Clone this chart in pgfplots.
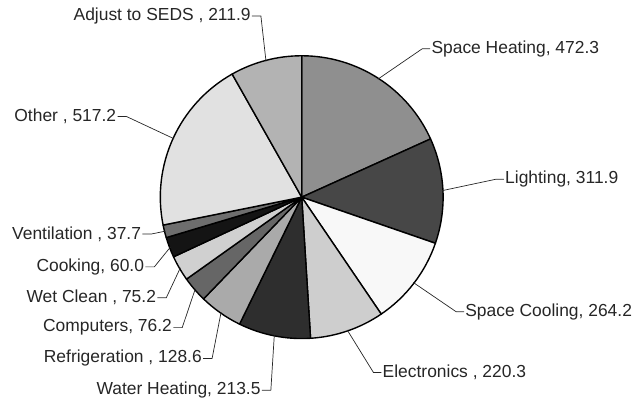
\documentclass[border=0pt]{standalone}
\usepackage{fontspec}
\setmainfont{Liberation Sans}
\usepackage{pgfplots}
\pgfplotsset{compat=1.18}

% slice values (clockwise from 12 o'clock) and grey fills
\def\vals{472.3,311.9,264.2,220.3,213.5,128.6,76.2,75.2,60.0,37.7,517.2,211.9}
\definecolor{c1}{HTML}{8F8F8F}
\definecolor{c2}{HTML}{474747}
\definecolor{c3}{HTML}{F8F8F8}
\definecolor{c4}{HTML}{CECECE}
\definecolor{c5}{HTML}{2E2E2E}
\definecolor{c6}{HTML}{AAAAAA}
\definecolor{c7}{HTML}{666666}
\definecolor{c8}{HTML}{D0D0D0}
\definecolor{c9}{HTML}{141414}
\definecolor{c10}{HTML}{6E6E6E}
\definecolor{c11}{HTML}{E1E1E1}
\definecolor{c12}{HTML}{B3B3B3}

% total and start/end/mid angles of every slice
\pgfmathsetmacro{\total}{0}
\foreach \v in \vals {\pgfmathsetmacro{\t}{\total+\v}\xdef\total{\t}}
\xdef\cum{90}
\foreach \v [count=\i] in \vals {
  \pgfmathsetmacro{\e}{\cum-\v/\total*360}
  \pgfmathsetmacro{\m}{(\cum+\e)/2}
  \expandafter\xdef\csname s\i\endcsname{\cum}
  \expandafter\xdef\csname e\i\endcsname{\e}
  \expandafter\xdef\csname m\i\endcsname{\m}
  \xdef\cum{\e}
}

\tikzset{lab/.style={inner sep=1pt, font=\fontsize{17.5}{20}\selectfont}}
% leader line from slice #1 to corner (#2,#3), label #4 on the right / left
\newcommand\lblR[4]{\draw[black!85, line width=0.7pt]
  (axis cs:303,204) ++(\csname m#1\endcsname:141pt) -- (axis cs:#2,#3)
  -- ++(8pt,0pt) node[lab, anchor=west] {#4};}
\newcommand\lblL[4]{\draw[black!85, line width=0.7pt]
  (axis cs:303,204) ++(\csname m#1\endcsname:141pt) -- (axis cs:#2,#3)
  -- ++(-9pt,0pt) node[lab, anchor=east] {#4};}

\begin{document}
\begin{tikzpicture}
\begin{axis}[
  x=1pt, y=1pt,
  xmin=0, xmax=633, ymin=0, ymax=402,
  hide axis, clip=false,
]
\path (axis cs:0,0) rectangle (axis cs:633,402);

% pie centre (303,204), radius 142
\pgfplotsinvokeforeach{1,...,12}{
  \filldraw[fill=c#1, draw=black, line width=1.4pt, line join=round]
    (axis cs:303,204) -- ++(\csname s#1\endcsname:142pt)
    arc[start angle=\csname s#1\endcsname, end angle=\csname e#1\endcsname, radius=142pt] -- cycle;
}

\lblR{1}{424}{353}{Space Heating, 472.3}
\lblR{2}{498}{222}{Lighting, 311.9}
\lblR{3}{458}{89}{Space Cooling, 264.2}
\lblR{4}{375}{28}{Electronics , 220.3}
\lblL{5}{272}{10}{Water Heating, 213.5}
\lblL{6}{213}{42}{Refrigeration , 128.6}
\lblL{7}{183}{73}{Computers, 76.2}
\lblL{8}{167}{103}{Wet Clean , 75.2}
\lblL{9}{155}{134}{Cooking, 60.0}
\lblL{10}{152}{167}{Ventilation , 37.7}
\lblL{11}{127}{285}{Other , 517.2}
\lblL{12}{262}{386}{Adjust to SEDS , 211.9}
\end{axis}
\end{tikzpicture}
\end{document}
